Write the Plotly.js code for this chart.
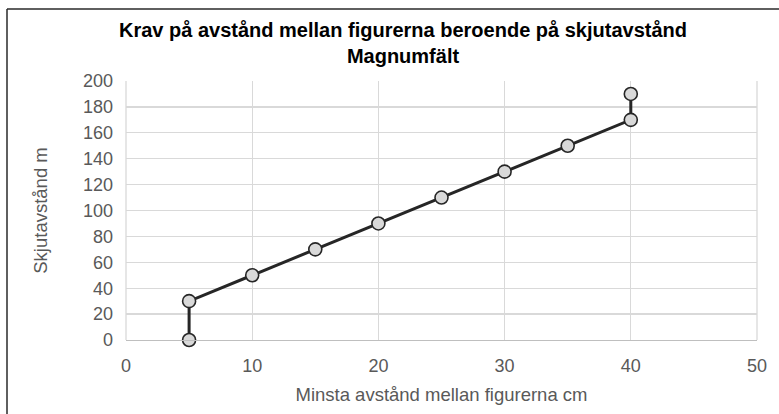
<!DOCTYPE html>
<html>
<head>
<meta charset="utf-8">
<script src="https://cdn.plot.ly/plotly-3.0.1.min.js"></script>
<style>html,body{margin:0;padding:0;background:#fff;}#chart{width:779px;height:414px;}</style>
</head>
<body>
<div id="chart"></div>
<script>
const minDistanceCm = [5, 5, 10, 15, 20, 25, 30, 35, 40, 40];
const shootingDistanceM = [0, 30, 50, 70, 90, 110, 130, 150, 170, 190];
const xTicks = [0, 10, 20, 30, 40, 50];
const yTicks = [0, 20, 40, 60, 80, 100, 120, 140, 160, 180, 200];
const chartTitle = 'Krav på avstånd mellan figurerna beroende på skjutavstånd<br>Magnumfält';
const xTitle = 'Minsta avstånd mellan figurerna cm';
const yTitle = 'Skjutavstånd m';

const trace = {
  x: minDistanceCm,
  y: shootingDistanceM,
  type: 'scatter',
  mode: 'lines+markers',
  line: {color: '#262626', width: 3},
  marker: {size: 13, color: '#d9d9d9', line: {color: '#262626', width: 1.6}},
  cliponaxis: false,
  hoverinfo: 'skip'
};

const tickFont = {family: 'Liberation Sans, Arial, sans-serif', size: 18, color: '#595959'};
const titleFont = {family: 'Liberation Sans, Arial, sans-serif', size: 18.5, color: '#595959'};
const L = 126, R = 22, T = 81, B = 74;
const pw = 779 - L - R, ph = 414 - T - B;
const bx = (7 - L) / pw, by = (414 - B - 9) / ph;

const layout = {
  width: 779, height: 414,
  margin: {l: L, r: R, t: T, b: B, pad: 0},
  paper_bgcolor: '#ffffff', plot_bgcolor: '#ffffff',
  showlegend: false,
  title: {
    text: chartTitle,
    font: {family: 'Liberation Sans, Arial, sans-serif', size: 20, color: '#000000', weight: 'bold'},
    x: 403 / 779, xref: 'container', xanchor: 'center',
    y: 1 - 37 / 414, yref: 'container', yanchor: 'middle'
  },
  xaxis: {
    range: [0, 50], tickvals: xTicks, ticktext: xTicks.map(String),
    showgrid: true, gridcolor: '#d9d9d9', gridwidth: 1.3,
    zeroline: false, showline: true, linecolor: '#bfbfbf', linewidth: 1.3,
    ticks: '', tickfont: tickFont, ticklabelstandoff: 9,
    title: {text: xTitle, font: titleFont, standoff: 13},
    fixedrange: true
  },
  yaxis: {
    range: [0, 200], tickvals: yTicks, ticktext: yTicks.map(String),
    showgrid: true, gridcolor: '#d9d9d9', gridwidth: 1.3,
    zeroline: false, showline: false,
    ticks: '', tickfont: tickFont, ticklabelstandoff: 12,
    title: {text: yTitle, font: titleFont, standoff: 30},
    fixedrange: true
  },
  shapes: [
    {type: 'line', xref: 'paper', yref: 'paper', x0: bx, x1: bx, y0: -0.5, y1: by, line: {color: '#2a2a2a', width: 1.5}},
    {type: 'line', xref: 'paper', yref: 'paper', x0: bx, x1: 1.2, y0: by, y1: by, line: {color: '#2a2a2a', width: 1.5}},
    {type: 'line', xref: 'paper', yref: 'paper', x0: 1, x1: 1, y0: 0, y1: 1, line: {color: '#d9d9d9', width: 1.3}, layer: 'below'},
    {type: 'line', xref: 'paper', yref: 'paper', x0: 0, x1: 0, y0: 0, y1: 1, line: {color: '#d9d9d9', width: 1.3}, layer: 'below'}
  ]
};

Plotly.newPlot('chart', [trace], layout, {displayModeBar: false, staticPlot: true});
</script>
</body>
</html>
